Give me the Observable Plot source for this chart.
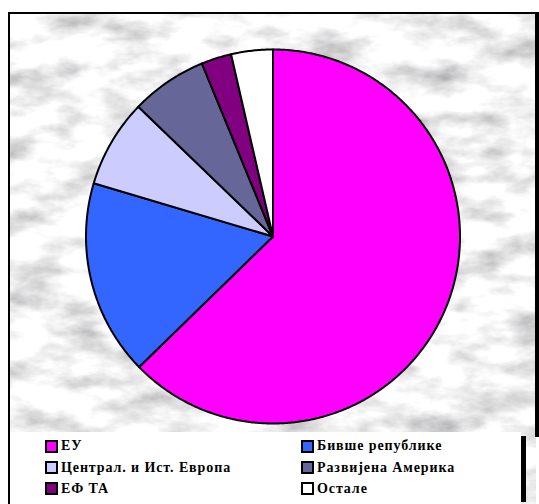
<!DOCTYPE html>
<html>
<head>
<meta charset="utf-8">
<script src="https://cdn.jsdelivr.net/npm/d3@7"></script>
<script src="https://cdn.jsdelivr.net/npm/@observablehq/plot@0.6"></script>
<style>
  html, body { margin: 0; padding: 0; background: #fff; }
  #frame { position: relative; width: 539px; height: 504px; overflow: hidden; background: #fff; }
  #marble { position: absolute; left: 9px; top: 13px; width: 527px; height: 491px; }
  #bl { position: absolute; left: 8px; top: 12px; width: 1.5px; height: 492px; background: #000; }
  #bt { position: absolute; left: 8px; top: 12px; width: 530px; height: 1.5px; background: #000; }
  #br { position: absolute; left: 535px; top: 12px; width: 4px; height: 425px; background: #000; }
  #chart { position: absolute; left: 0; top: 0; }
  #legendbox { position: absolute; left: 9.5px; top: 432px; width: 511px; height: 72px; background: #fff; }
  #bar { position: absolute; left: 521px; top: 436px; width: 5px; height: 66px; background: #000; }
  .item { position: absolute; display: flex; align-items: center; font-family: "Liberation Serif", "Times New Roman", serif; font-weight: 700; font-size: 14px; letter-spacing: 0.9px; color: #000; white-space: nowrap; }
  .sw { width: 9px; height: 9px; border: 2px solid #000; margin-right: 3px; flex: none; }
</style>
</head>
<body>
<div id="frame">
  <svg id="marble" width="527" height="491">
    <defs>
      <filter id="mf" x="0" y="0" width="100%" height="100%">
        <feTurbulence type="fractalNoise" baseFrequency="0.02 0.04" numOctaves="5" seed="11" result="n"/>
        <feColorMatrix type="matrix" values="1.15 0 0 0 0.33  1.15 0 0 0 0.33  1.15 0 0 0 0.34  0 0 0 0 1"/>
      </filter>
    </defs>
    <rect width="527" height="491" filter="url(#mf)"/>
  </svg>
  <div id="bl"></div><div id="bt"></div><div id="br"></div>
  <div id="chart"></div>
  <div id="legendbox"></div>
  <div id="bar"></div>
  <div id="legend"></div>
</div>
<script>
const categories = ["ЕУ", "Бивше републике", "Централ. и Ист. Европа", "Развијена Америка", "ЕФ ТА", "Остале"];
const shares = [62.7, 16.9, 7.6, 6.6, 2.6, 3.6];
const colors = ["#ff00ff", "#3366ff", "#ccccff", "#666699", "#800080", "#ffffff"];

// slice outlines derived from the shares (clockwise from 12 o'clock)
const total = d3.sum(shares);
const pts = [];
let acc = 0;
categories.forEach((c, i) => {
  const a0 = acc / total * 2 * Math.PI;
  acc += shares[i];
  const a1 = acc / total * 2 * Math.PI;
  pts.push({cat: c, x: 0, y: 0});
  const n = Math.max(2, Math.ceil((a1 - a0) / (Math.PI / 360)));
  for (let k = 0; k <= n; k++) {
    const a = a0 + (a1 - a0) * k / n;
    pts.push({cat: c, x: Math.sin(a), y: Math.cos(a)});
  }
});

const cx = 272.5, cy = 236, r = 187, W = 539, H = 504;
const chart = Plot.plot({
  width: W, height: H,
  marginLeft: cx - r, marginRight: W - (cx + r),
  marginTop: cy - r, marginBottom: H - (cy + r),
  x: {domain: [-1, 1], axis: null},
  y: {domain: [-1, 1], axis: null},
  color: {domain: categories, range: colors},
  style: {background: "transparent", overflow: "visible"},
  marks: [
    Plot.line(pts, {x: "x", y: "y", z: "cat", fill: "cat", stroke: "#000", strokeWidth: 2, curve: "linear-closed", strokeLinejoin: "round"})
  ]
});
document.getElementById("chart").appendChild(chart);

// legend (row-major, two columns)
const color = chart.scale("color");
const lg = document.getElementById("legend");
const colX = [45, 301];
const rowY = [446, 467.5, 488.5];
categories.forEach((c, i) => {
  const d = document.createElement("div");
  d.className = "item";
  d.style.left = colX[i % 2] + "px";
  d.style.top = (rowY[Math.floor(i / 2)] - 8) + "px";
  d.style.height = "16px";
  const s = document.createElement("span");
  s.className = "sw";
  s.style.background = color.apply(c);
  d.appendChild(s);
  const t = document.createElement("span");
  t.textContent = c;
  d.appendChild(t);
  lg.appendChild(d);
});
</script>
</body>
</html>
